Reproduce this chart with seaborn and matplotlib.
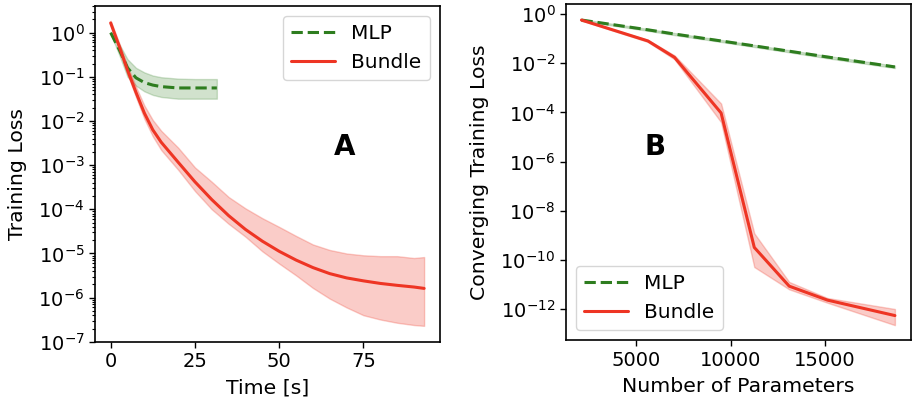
import matplotlib
matplotlib.use("Agg")
import matplotlib.pyplot as plt
import seaborn as sns
import numpy as np
from matplotlib.ticker import LogLocator, NullLocator

# ---- Panel A: training loss vs time ----
mlp_time = [0, 2.5, 5, 7.5, 10, 12.5, 15, 20, 25, 31.5]
mlp_loss = [1.0, 0.42, 0.16, 0.095, 0.074, 0.065, 0.060, 0.056, 0.056, 0.056]
mlp_upper = [1.05, 0.56, 0.25, 0.16, 0.126, 0.107, 0.098, 0.091, 0.089, 0.089]
mlp_lower = [0.95, 0.32, 0.10, 0.063, 0.047, 0.039, 0.035, 0.032, 0.032, 0.032]

bundle_time = [0, 2.5, 5, 7.5, 10, 12.5, 15, 20, 25, 30, 35, 40, 45, 50,
               55, 60, 65, 70, 75, 80, 85, 90, 93]
bundle_loss = [1.66, 0.50, 0.141, 0.0447, 0.0151, 6.3e-3, 3.3e-3, 1.17e-3, 4.2e-4,
               1.66e-4, 7.2e-5, 3.5e-5, 1.9e-5, 1.12e-5, 7.1e-6, 4.8e-6, 3.5e-6,
               2.8e-6, 2.4e-6, 2.1e-6, 1.9e-6, 1.74e-6, 1.62e-6]
bundle_upper = [1.86, 0.59, 0.174, 0.060, 0.0224, 0.0105, 6.0e-3, 2.5e-3, 8.9e-4,
                4.2e-4, 1.9e-4, 1.05e-4, 6.3e-5, 4.0e-5, 2.5e-5, 1.6e-5, 1.2e-5,
                1.0e-5, 9.1e-6, 8.7e-6, 8.7e-6, 7.9e-6, 8.3e-6]
bundle_lower = [1.48, 0.43, 0.115, 0.035, 0.0112, 4.5e-3, 2.2e-3, 7.9e-4, 2.6e-4,
                1.0e-4, 4.7e-5, 2.4e-5, 1.12e-5, 5.9e-6, 3.2e-6, 1.66e-6, 9.5e-7,
                6.0e-7, 4.0e-7, 3.2e-7, 2.7e-7, 2.4e-7, 2.3e-7]

# ---- Panel B: converging loss vs number of parameters ----
n_params = [2090, 5615, 7026, 9497, 11258, 13110, 15136, 18717]
mlp_conv = [0.575, 0.23, 0.155, 0.081, 0.051, 0.031, 0.018, 0.0071]
mlp_conv_upper = [0.62, 0.25, 0.17, 0.089, 0.056, 0.034, 0.020, 0.0079]
mlp_conv_lower = [0.53, 0.21, 0.14, 0.074, 0.046, 0.028, 0.016, 0.0064]
bundle_conv = [0.575, 0.081, 0.0174, 9.5e-5, 3.2e-10, 8.5e-12, 2.3e-12, 5.4e-13]
bundle_conv_upper = [0.60, 0.089, 0.021, 2.3e-4, 1.2e-9, 1.26e-11, 2.8e-12, 1.0e-12]
bundle_conv_lower = [0.55, 0.074, 0.0145, 4.0e-5, 5.1e-11, 6.3e-12, 1.8e-12, 2.2e-13]

GREEN = "#2e7d1f"
RED = "#ee3524"

sns.set_style("ticks", {"axes.edgecolor": "black", "xtick.color": "black",
                        "ytick.color": "black", "text.color": "black",
                        "axes.labelcolor": "black"})
plt.rcParams["font.family"] = ["DejaVu Sans"]
plt.rcParams["font.size"] = 14
plt.rcParams["axes.linewidth"] = 1.2

fig = plt.figure(figsize=(9.17, 4.05), dpi=100)
ax1 = fig.add_axes([0.1036, 0.156, 0.376, 0.829])
ax2 = fig.add_axes([0.617, 0.160, 0.376, 0.830])

# --- A ---
sns.lineplot(x=mlp_time, y=mlp_loss, ax=ax1, color=GREEN, linestyle="--",
             linewidth=2.2, label="MLP")
ax1.fill_between(mlp_time, mlp_lower, mlp_upper, color=GREEN, alpha=0.22,
                 linewidth=1)
sns.lineplot(x=bundle_time, y=bundle_loss, ax=ax1, color=RED, linewidth=2.2,
             label="Bundle")
ax1.fill_between(bundle_time, bundle_lower, bundle_upper, color=RED, alpha=0.25,
                 linewidth=1)
ax1.set_yscale("log")
ax1.set_ylim(1e-7, 4)
ax1.set_xticks([0, 25, 50, 75])
ax1.set_xlabel("Time [s]", fontsize=14.7, labelpad=5)
ax1.set_ylabel("Training Loss", fontsize=14.7, labelpad=8)
ax1.legend(loc="upper right", fontsize=14.5, handlelength=2.2)
ax1.text(0.725, 0.58, "A", transform=ax1.transAxes, fontsize=20,
         fontweight="bold", ha="center", va="center")

# --- B ---
sns.lineplot(x=n_params, y=mlp_conv, ax=ax2, color=GREEN, linestyle="--",
             linewidth=2.2, label="MLP")
ax2.fill_between(n_params, mlp_conv_lower, mlp_conv_upper, color=GREEN,
                 alpha=0.22, linewidth=1)
sns.lineplot(x=n_params, y=bundle_conv, ax=ax2, color=RED, linewidth=2.2,
             label="Bundle")
ax2.fill_between(n_params, bundle_conv_lower, bundle_conv_upper, color=RED,
                 alpha=0.25, linewidth=1)
ax2.set_yscale("log")
ax2.set_ylim(10 ** -13.27, 10 ** 0.41)
ax2.yaxis.set_major_locator(LogLocator(base=100))
ax2.yaxis.set_minor_locator(NullLocator())
ax2.set_xticks([5000, 10000, 15000])
ax2.set_xlabel("Number of Parameters", fontsize=14.7, labelpad=5)
ax2.set_ylabel("Converging Training Loss", fontsize=14.7, labelpad=8)
ax2.legend(loc="lower left", fontsize=14.5, handlelength=2.2)
ax2.text(0.258, 0.575, "B", transform=ax2.transAxes, fontsize=20,
         fontweight="bold", ha="center", va="center")

for ax in (ax1, ax2):
    ax.tick_params(labelsize=14, direction="out", length=4, width=1)
    ax.tick_params(which="minor", length=2.5, width=0.8)

fig.savefig("out.png", dpi=100)
